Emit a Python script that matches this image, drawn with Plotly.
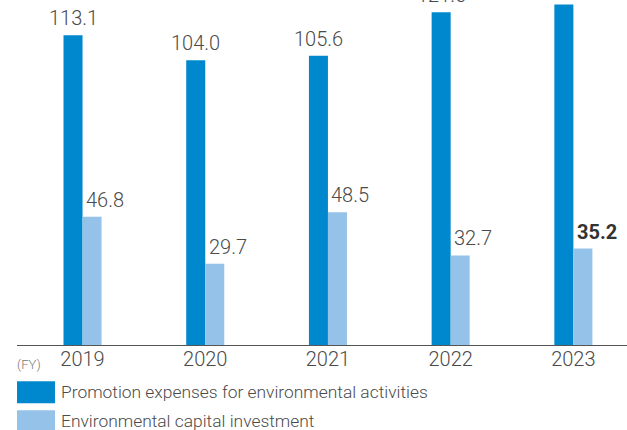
import plotly.graph_objects as go

years = ["2019", "2020", "2021", "2022", "2023"]
promotion = [113.1, 104.0, 105.6, 121.5, 124.4]
capital = [46.8, 29.7, 48.5, 32.7, 35.2]
series_names = ["Promotion expenses for environmental activities",
                "Environmental capital investment"]

dark = "#0088cf"
light = "#95c2e8"
txt = "#4a4a4a"
font_family = "Roboto"

fig = go.Figure()
fig.add_bar(x=years, y=promotion, name=series_names[0], marker_color=dark,
            marker_line_width=0, showlegend=False)
fig.add_bar(x=years, y=capital, name=series_names[1], marker_color=light,
            marker_line_width=0, showlegend=False)

# value labels (x as category index)
for i, yr in enumerate(years):
    fig.add_annotation(xref="x", yref="y", x=i, y=promotion[i], text=f"{promotion[i]:.1f}",
                       xshift=-9.5, yshift=3, yanchor="bottom", xanchor="center",
                       showarrow=False,
                       font=dict(family=font_family, size=20, color=txt, weight=300))
    last = i == len(years) - 1
    fig.add_annotation(xref="x", yref="y", x=i, y=capital[i],
                       text=f"<b>{capital[i]:.1f}</b>" if last else f"{capital[i]:.1f}",
                       xshift=1.5, yshift=3, yanchor="bottom", xanchor="left",
                       showarrow=False,
                       font=dict(family=font_family, size=20, color="#333" if last else txt,
                                 weight=300))

fig.add_annotation(text="(FY)", xref="paper", yref="paper", x=0, y=0,
                   xanchor="left", yanchor="top", yshift=-10, xshift=-2, showarrow=False,
                   font=dict(family=font_family, size=13, color="#777", weight=300))

# custom legend
colors = [dark, light]
for k, nm in enumerate(series_names):
    y0 = 381 + k * 29
    fig.add_shape(type="rect", xref="paper", yref="paper",
                  x0=0, x1=38 / 610, y0=(344.7 - y0) / 344.7, y1=(344.7 - y0 - 22) / 344.7,
                  fillcolor=colors[k], line_width=0)
    fig.add_annotation(text=nm, xref="paper", yref="paper", x=42 / 610,
                       y=(344.7 - y0 - 11) / 344.7, xanchor="left", yanchor="middle",
                       showarrow=False,
                       font=dict(family=font_family, size=17.4, color=txt, weight=300))

fig.update_layout(
    width=627, height=430,
    margin=dict(l=17, r=0, t=0, b=85.3),
    paper_bgcolor="white", plot_bgcolor="white",
    barmode="group", bargap=0.69, bargroupgap=0,
    font=dict(family=font_family, color=txt),
)
fig.update_xaxes(type="category", range=[-0.534, 4.437], showline=True,
                 linecolor="#555", linewidth=1, ticks="", showgrid=False,
                 ticklabelstandoff=-4,
                 tickfont=dict(family=font_family, size=20, color=txt, weight=300))
fig.update_yaxes(range=[0, 126.0], showticklabels=False, showline=False,
                 showgrid=False, zeroline=False)

fig.write_html("out.html", config={"displayModeBar": False},
               post_script="document.body.style.margin='0';")
